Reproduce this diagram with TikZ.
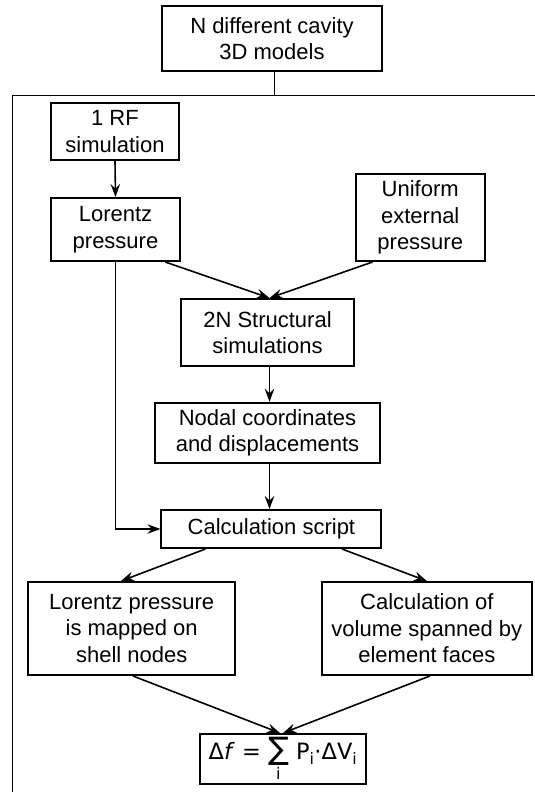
\documentclass[tikz,border=0pt]{standalone}
\usepackage{fontspec}
\setmainfont{Liberation Sans}
\newfontfamily\dv{DejaVu Sans}
\usetikzlibrary{arrows.meta,calc}
\begin{document}
\begin{tikzpicture}[x=1pt,y=-1pt,
  box/.style={draw,line width=2pt,align=center,inner sep=0pt,
    font=\fontsize{22}{26.5}\selectfont},
  arr/.style={line width=1.6pt,-{Stealth[length=13pt,width=9.5pt,inset=4.5pt]}},
  ln/.style={line width=1.6pt}]
\useasboundingbox (0,0) rectangle (535,792);
\clip (0,0) rectangle (535,792);
\node[box,minimum width=220,minimum height=65] (top) at (272,38.5) {N different cavity\\3D models};
\node[box,minimum width=128.5,minimum height=57] (rf) at (115,131.5) {1 RF\\simulation};
\node[box,minimum width=129.5,minimum height=63] (lor) at (115.5,229.5) {Lorentz\\pressure};
\node[box,minimum width=128.5,minimum height=87] (uni) at (420.25,217.5) {Uniform\\external\\pressure};
\node[box,minimum width=173,minimum height=67] (sn) at (267.5,332.5) {2N Structural\\simulations};
\node[box,minimum width=225,minimum height=60] (nod) at (267.5,432.8) {Nodal coordinates\\and displacements};
\node[box,minimum width=220,minimum height=38] (cs) at (271.4,529) {Calculation script};
\node[box,minimum width=207,minimum height=93] (lm) at (131.7,628.5) {Lorentz pressure\\is mapped on\\shell nodes};
\node[box,minimum width=210,minimum height=93] (cv) at (426.85,628.5) {Calculation of\\volume spanned by\\element faces};
\node[box,minimum width=166,minimum height=50,font=\dv\fontsize{22.5}{25}\selectfont] (form) at (283,759)
  {\raisebox{1pt}{Δ\textit{f} = $\mathop{\hbox{\dv\fontsize{31}{31}\selectfont ∑}}\limits_{\hbox{\dv\fontsize{16}{16}\selectfont i}}$ P\textsubscript{i}·ΔV\textsubscript{i}}};
% frame
\coordinate (fl) at (12,795);
\coordinate (fc) at (12,95);
\coordinate (fr) at (540,95);
\draw[line width=1pt] (fl) -- (fc) -- (fr);
\coordinate (ft) at ($(top.south)+(2.5,0)$);
\draw[ln] (ft) -- (ft |- fc);
% arrows
\draw[arr] (rf.south) -- (lor.north);
\coordinate (snt) at ($(sn.north)+(2,0)$);
\draw[arr] ($(lor.south east)+(-16,0)$) -- (snt);
\draw[arr] ($(uni.south west)+(17.5,0)$) -- (snt);
\coordinate (snb) at ($(sn.south)+(2,0)$);
\draw[arr] (snb) -- (snb |- nod.north);
\coordinate (nodb) at ($(nod.south)+(2,0)$);
\draw[arr] (nodb) -- (nodb |- cs.north);
\draw[arr] (lor.south) |- (cs.west);
\draw[arr] ($(cs.south west)+(45,0)$) -- ($(lm.north)+(-10.7,0)$);
\draw[arr] ($(cs.south east)+(-40.4,0)$) -- (cv.north);
\draw[arr] ($(lm.south)+(1.3,0)$) -- ($(form.north)+(-3,0)$);
\draw[arr] ($(cv.south)+(3,0)$) -- (form.north);
\end{tikzpicture}
\end{document}
